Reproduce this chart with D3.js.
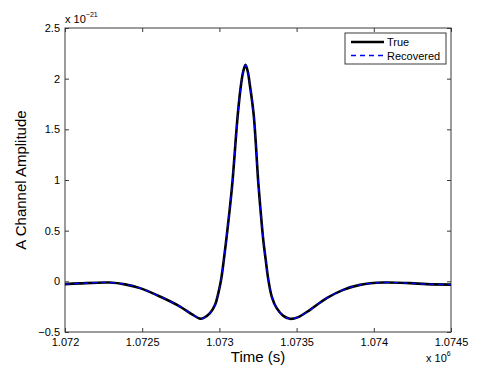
<!DOCTYPE html>
<html>
<head>
<meta charset="utf-8">
<script src="https://cdn.jsdelivr.net/npm/d3@7"></script>
<style>
  body { margin: 0; background: #fff; }
  svg { font-family: "Liberation Sans", Arial, sans-serif; }
</style>
</head>
<body>
<div id="chart"></div>
<script>
// time in units of 1e6 s, amplitude in units of 1e-21
var timeVals = [1.072000, 1.072097, 1.072291, 1.072389, 1.072486, 1.072615, 1.072745, 1.072823,
    1.072874, 1.072896, 1.072939, 1.072972, 1.072993, 1.073011, 1.073027, 1.073046, 1.073065,
    1.073084, 1.073119, 1.073140, 1.073154, 1.073169, 1.073184, 1.073197, 1.073222, 1.073252,
    1.073268, 1.073284, 1.073300, 1.073317, 1.073339, 1.073371, 1.073414, 1.073457, 1.073511,
    1.073587, 1.073695, 1.073802, 1.073911, 1.074062, 1.074234, 1.074343, 1.074500];
var trueAmp = [-0.028, -0.020, -0.012, -0.030, -0.067, -0.150, -0.249, -0.326,
    -0.368, -0.363, -0.314, -0.232, -0.116, 0.015, 0.192, 0.429, 0.686,
    0.972, 1.644, 1.940, 2.068, 2.137, 2.068, 1.940, 1.644, 0.972,
    0.676, 0.410, 0.212, 0.015, -0.150, -0.265, -0.341, -0.370, -0.353,
    -0.281, -0.166, -0.084, -0.035, -0.012, -0.018, -0.028, -0.032];
var recoveredAmp = [-0.028, -0.020, -0.012, -0.030, -0.067, -0.150, -0.249, -0.326,
    -0.368, -0.363, -0.314, -0.232, -0.116, 0.015, 0.192, 0.429, 0.686,
    0.972, 1.644, 1.940, 2.068, 2.137, 2.068, 1.940, 1.644, 0.972,
    0.676, 0.410, 0.212, 0.015, -0.150, -0.265, -0.341, -0.370, -0.353,
    -0.281, -0.166, -0.084, -0.035, -0.012, -0.018, -0.028, -0.032];
var xTicks = [1.072, 1.0725, 1.073, 1.0735, 1.074, 1.0745];
var yTicks = [-0.5, 0, 0.5, 1, 1.5, 2, 2.5];
var legendNames = ["True", "Recovered"];

const W = 498, H = 375;
const LEFT = 65, RIGHT = 451, TOP = 28, BOTTOM = 332;
const AXIS_COL = "#3a3a3a";

const svg = d3.select("#chart").append("svg")
    .attr("width", W).attr("height", H);

const x = d3.scaleLinear().domain([1.072, 1.0745]).range([LEFT, RIGHT]);
const y = d3.scaleLinear().domain([-0.5, 2.5]).range([BOTTOM, TOP]);

// frame
svg.append("rect")
    .attr("x", LEFT).attr("y", TOP)
    .attr("width", RIGHT - LEFT).attr("height", BOTTOM - TOP)
    .attr("fill", "none").attr("stroke", AXIS_COL).attr("stroke-width", 1);

// axes, ticks pointing inward
const fmtX = d => String(d);
const fmtY = d => (d < 0 ? "\u2212" + Math.abs(d) : String(d));

const axB = svg.append("g").attr("transform", `translate(0,${BOTTOM})`)
    .call(d3.axisBottom(x).tickValues(xTicks).tickFormat(fmtX).tickSizeInner(-4).tickSizeOuter(0).tickPadding(6));
const axT = svg.append("g").attr("transform", `translate(0,${TOP})`)
    .call(d3.axisTop(x).tickValues(xTicks).tickFormat("").tickSizeInner(-4).tickSizeOuter(0));
const axL = svg.append("g").attr("transform", `translate(${LEFT},0)`)
    .call(d3.axisLeft(y).tickValues(yTicks).tickFormat(fmtY).tickSizeInner(-4).tickSizeOuter(0).tickPadding(5));
const axR = svg.append("g").attr("transform", `translate(${RIGHT},0)`)
    .call(d3.axisRight(y).tickValues(yTicks).tickFormat("").tickSizeInner(-4).tickSizeOuter(0));

[axB, axT, axL, axR].forEach(g => {
    g.select(".domain").remove();
    g.selectAll(".tick line").attr("stroke", AXIS_COL);
    g.selectAll(".tick text").attr("fill", "#000").style("font-size", "11px")
        .style("font-family", "'Liberation Sans', Arial, sans-serif");
});

// curves
const line = d3.line()
    .x((d, i) => x(timeVals[i]))
    .y(d => y(d))
    .curve(d3.curveCatmullRom.alpha(0.5));

svg.append("path").datum(trueAmp)
    .attr("d", line).attr("fill", "none")
    .attr("stroke", "#000").attr("stroke-width", 2.6);

svg.append("path").datum(recoveredAmp)
    .attr("d", line).attr("fill", "none")
    .attr("stroke", "#0000ff").attr("stroke-width", 1.3)
    .attr("stroke-dasharray", "5,4");

// exponent labels
const expTop = svg.append("text").attr("x", LEFT).attr("y", 23)
    .style("font-size", "11px");
expTop.append("tspan").text("x 10");
expTop.append("tspan").attr("dy", -6).style("font-size", "7px").text("\u221221");

const expBot = svg.append("text").attr("x", 426).attr("y", 362)
    .style("font-size", "11px");
expBot.append("tspan").text("x 10");
expBot.append("tspan").attr("dy", -6).style("font-size", "7px").text("6");

// axis titles
svg.append("text").attr("x", (LEFT + RIGHT) / 2).attr("y", 362)
    .attr("text-anchor", "middle").style("font-size", "15px").text("Time (s)");

svg.append("text")
    .attr("transform", `translate(26,${(TOP + BOTTOM) / 2}) rotate(-90)`)
    .attr("text-anchor", "middle").style("font-size", "15px").text("A Channel Amplitude");

// legend
const lg = svg.append("g");
lg.append("rect").attr("x", 345).attr("y", 33).attr("width", 101).attr("height", 31)
    .attr("fill", "#fff").attr("stroke", AXIS_COL).attr("stroke-width", 1);
const legStyles = [
    { col: "#000", w: 2.6, dash: null },
    { col: "#0000ff", w: 1.3, dash: "5,4" }
];
legendNames.forEach((name, i) => {
    const yy = 42 + i * 13.5;
    lg.append("line").attr("x1", 351).attr("x2", 384).attr("y1", yy).attr("y2", yy)
        .attr("stroke", legStyles[i].col).attr("stroke-width", legStyles[i].w)
        .attr("stroke-dasharray", legStyles[i].dash);
    lg.append("text").attr("x", 387).attr("y", yy + 4)
        .style("font-size", "11px").text(name);
});
</script>
</body>
</html>
